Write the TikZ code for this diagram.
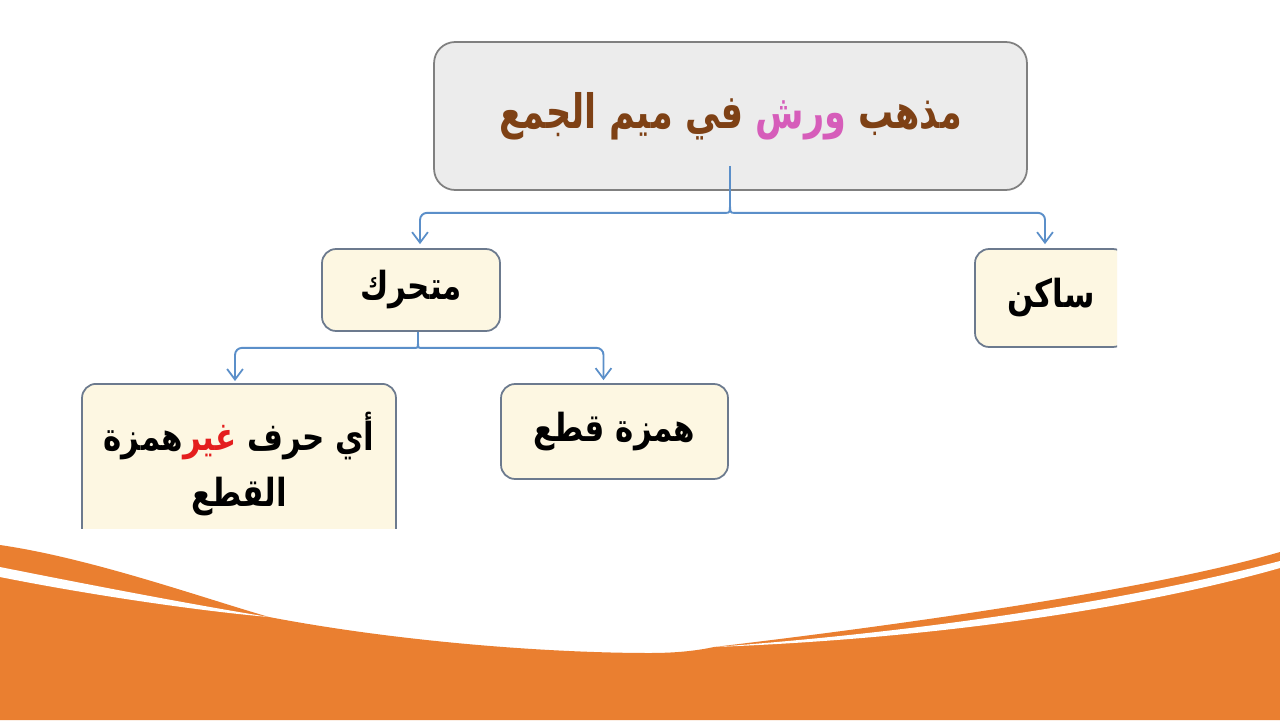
\documentclass[tikz,border=0pt]{standalone}
\usepackage{fontspec}
\TeXXeTstate=1
\newfontfamily\arabicfont[Script=Arabic,FakeStretch=0.8]{DejaVu Sans}
\newfontfamily\arabictitle[Script=Arabic,FakeStretch=0.74]{DejaVu Sans}
\usetikzlibrary{arrows.meta,calc}
\definecolor{orng}{HTML}{EA7F30}
\definecolor{conncol}{HTML}{5B8FC9}
\definecolor{boxline}{HTML}{6C7A8E}
\definecolor{cream}{HTML}{FDF7E2}
\definecolor{titlefill}{HTML}{ECECEC}
\definecolor{titleline}{HTML}{808080}
\definecolor{brown}{HTML}{7E4115}
\definecolor{pinkw}{HTML}{D65DBA}
\definecolor{redw}{HTML}{E41E1E}
\newcommand{\rtlw}[1]{\beginR #1\endR}
\tikzset{
  conn/.style={draw=conncol, line width=1.1pt, -{Straight Barb[length=6pt,width=9pt,line width=1pt]}},
  connplain/.style={draw=conncol, line width=1.1pt},
  catbox/.style={draw=boxline, fill=cream, line width=1pt, rounded corners=8pt, font=\arabicfont\bfseries\fontsize{22}{30}\selectfont, align=center, inner sep=0pt},
  titlebox/.style={draw=titleline, fill=titlefill, line width=1pt, rounded corners=12pt, font=\arabictitle\bfseries\fontsize{27}{32}\selectfont, text=brown, inner sep=0pt}
}
\begin{document}
\begin{tikzpicture}[x={(0.02cm,0)}, y={(0,-0.02cm)}]
\useasboundingbox (0,0) rectangle (1280,720);
\fill[white] (0,0) rectangle (1280,720);
% orange bottom
\fill[orng] (0,720) -- (0,545) .. controls (90,558) and (200,597) .. (269,617)
  .. controls (400,642) and (550,653) .. (650,653) .. controls (680,653) and (700,650) .. (714,647)
  .. controls (900,625) and (1150,590) .. (1280,552) -- (1280,720) -- cycle;
\fill[white] (0,567) .. controls (90,585) and (200,606) .. (269,617)
  .. controls (200,611) and (90,595) .. (0,577) -- cycle;
\fill[white] (714,647) .. controls (950,630) and (1150,595) .. (1280,561)
  -- (1280,568) .. controls (1150,605) and (950,638) .. (714,647) -- cycle;
% title
\node[titlebox, minimum width=11.86cm, minimum height=2.96cm] (title) at (730.5,116)
  {\rtlw{الجمع} \rtlw{ميم} \rtlw{في} \textcolor{pinkw}{\rtlw{ورش}} \rtlw{مذهب}};
\begin{scope}
\clip (0,0) rectangle (1117,528);
\node[catbox, minimum width=3.56cm, minimum height=1.64cm] (mth) at (411,290) {\rtlw{متحرك}};
\node[catbox, minimum width=3.04cm, minimum height=1.96cm] (skn) at (1051,298) {\rtlw{ساكن}};
\node[catbox, minimum width=4.54cm, minimum height=1.9cm] (hmz) at (614.5,431.5) {\rtlw{همزة قطع}};
\node[catbox, minimum width=6.28cm, minimum height=3.2cm, anchor=north] (oth) at (239,383)
  {\rtlw{همزة}\textcolor{redw}{\rtlw{غير}} \rtlw{حرف} \rtlw{أي}\\[2pt]\rtlw{القطع}};
\end{scope}
% connectors from title
\coordinate (tsrc) at ($(title.south)+(-0.5,-25)$);
\coordinate (tsplit) at ($(title.south)+(-0.5,12)$);
\draw[connplain] (tsrc) -- (tsplit);
\draw[conn, rounded corners=4pt] (tsplit) .. controls ($(tsplit)+(0,10)$) .. ($(tsplit)+(-12,10)$) -- ($(mth.north |- tsplit)+(9,10)$) -- ($(mth.north)+(9,-4)$);
\draw[conn, rounded corners=4pt] (tsplit) .. controls ($(tsplit)+(0,10)$) .. ($(tsplit)+(12,10)$) -- ($(skn.north |- tsplit)+(-6,10)$) -- ($(skn.north)+(-6,-4)$);
% connectors from mth
\coordinate (msrc) at ($(mth.south)+(7,0)$);
\coordinate (msplit) at ($(mth.south)+(7,8)$);
\draw[connplain] (msrc) -- (msplit);
\draw[conn, rounded corners=4pt] (msplit) .. controls ($(msplit)+(0,8)$) .. ($(msplit)+(-10,8)$) -- ($(oth.north |- msplit)+(-4,8)$) -- ($(oth.north)+(-4,-2)$);
\draw[conn, rounded corners=4pt] (msplit) .. controls ($(msplit)+(0,8)$) .. ($(msplit)+(10,8)$) -- ($(hmz.north |- msplit)+(-11,8)$) -- ($(hmz.north)+(-11,-3)$);
\end{tikzpicture}
\end{document}
